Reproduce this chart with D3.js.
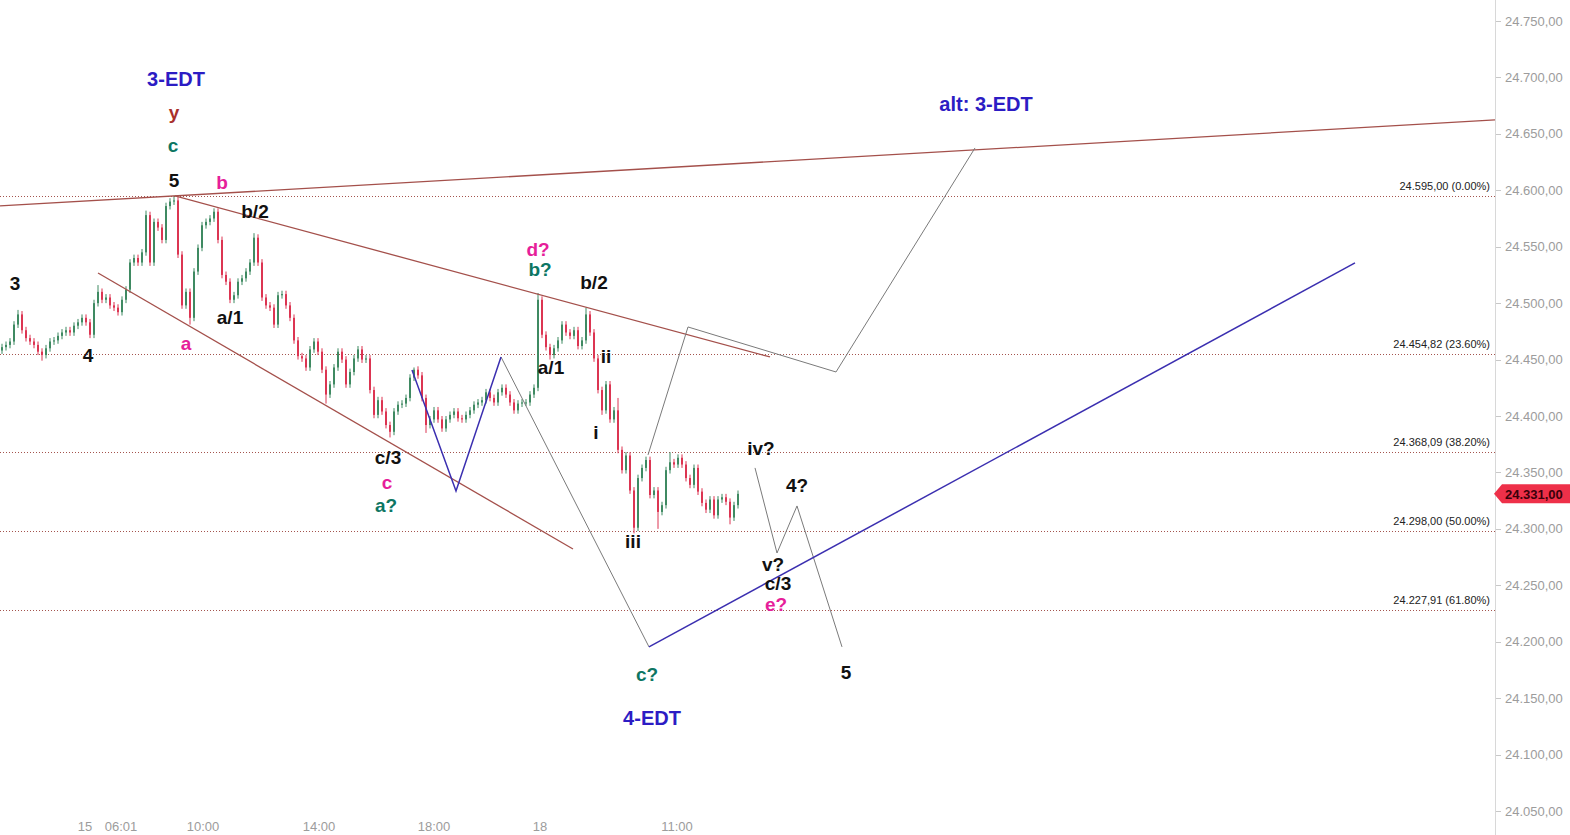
<!DOCTYPE html>
<html><head><meta charset="utf-8">
<script src="https://cdn.jsdelivr.net/npm/d3@7"></script>
<style>html,body{margin:0;padding:0;background:#fff;overflow:hidden}</style>
</head><body><svg id="c" width="1570" height="835"></svg>
<script>
// ---------- data ----------
const firstOpen = 24458;
const closes = [
24461,24463,24466,24481,24490,24476,24469,24466,24463,24457,
24454,24460,24466,24467,24471,24474,24476,24474,24480,24483,
24487,24483,24472,24500,24510,24503,24505,24498,24496,24492,
24503,24512,24536,24540,24536,24545,24578,24536,24572,24567,
24556,24586,24590,24591,24543,24498,24510,24487,24528,24549,
24569,24572,24575,24581,24556,24525,24519,24503,24507,24519,
24522,24528,24536,24558,24536,24505,24498,24496,24481,24507,
24508,24498,24487,24467,24453,24451,24443,24459,24466,24457,
24441,24419,24428,24443,24457,24450,24428,24439,24451,24459,
24450,24451,24423,24401,24414,24404,24392,24386,24404,24410,
24411,24416,24434,24441,24436,24416,24392,24397,24405,24397,
24389,24397,24401,24404,24398,24397,24401,24405,24410,24412,
24414,24421,24416,24412,24421,24425,24419,24412,24405,24411,
24412,24412,24419,24425,24503,24472,24461,24454,24460,24467,
24481,24474,24471,24476,24462,24467,24490,24474,24451,24423,
24405,24428,24397,24405,24370,24352,24365,24334,24301,24345,
24354,24361,24330,24334,24315,24321,24352,24359,24357,24363,
24357,24345,24339,24354,24333,24323,24317,24326,24312,24326,
24328,24324,24310,24321,24331
];
const barHighs = {4:24494, 24:24516, 36:24582, 43:24595, 53:24584, 63:24562, 103:24443, 134:24509, 146:24496, 154:24416, 167:24368};
const barLows  = {10:24449, 47:24481, 81:24411, 97:24381, 106:24385, 137:24450, 150:24401, 158:24296, 164:24300, 182:24304};
const wickPts = 3;

const yTicks = [24050,24100,24150,24200,24250,24300,24350,24400,24450,24500,24550,24600,24650,24700,24750];
const timeTickPos = [20.75, 29.75, 50.25, 79.25, 108, 134.5, 168.75];
const timeTickLabels = ["15","06:01","10:00","14:00","18:00","18","11:00"];

const fibLevels = [24595.00, 24454.82, 24368.09, 24298.00, 24227.91];
const fibPcts = ["0.00%","23.60%","38.20%","50.00%","61.80%"];
const lastPrice = 24331;

const brownLines = [
  [[-0.5,24586.1],[373.25,24662.3]],
  [[43.25,24595],[192,24452.3]],
  [[24,24526.7],[142.75,24282.2]]
];
const blueLines = [
  [[102.5,24440.8],[113.5,24333.6],[124.75,24452.3]],
  [[161.75,24195.4],[338.25,24535.6]]
];
const grayLines = [
  [[124.75,24452.3],[161.75,24195.4]],
  [[161.5,24365.5],[171.5,24478.9],[208.5,24439],[243.25,24637.5]],
  [[188.25,24354],[193.75,24278.6],[198.75,24320.3],[210,24195.4]]
];
// [barIndex, price, text, role, size]
const waveLabels = [
  [43.5,24698.6,"3-EDT","blue",20],
  [43,24668.5,"y","brown",19],
  [42.75,24640.1,"c","teal",19],
  [43,24609.1,"5","black",19],
  [55,24607.3,"b","pink",19],
  [63.25,24580.8,"b/2","black",19],
  [3.25,24517,"3","black",19],
  [21.5,24453.2,"4","black",19],
  [57,24486.9,"a/1","black",19],
  [46,24463.8,"a","pink",19],
  [134,24547.1,"d?","pink",19],
  [134.5,24529.4,"b?","teal",19],
  [148,24517.9,"b/2","black",19],
  [137.25,24443.4,"a/1","black",19],
  [151,24452.3,"ii","black",19],
  [148.5,24385.8,"i","black",19],
  [157.75,24288.4,"iii","black",19],
  [96.5,24362.8,"c/3","black",19],
  [96.25,24340.7,"c","pink",19],
  [96,24320.3,"a?","teal",19],
  [189.75,24370.8,"iv?","black",19],
  [198.75,24338,"4?","black",19],
  [192.75,24268,"v?","black",19],
  [194,24251.2,"c/3","black",19],
  [193.5,24232.6,"e?","pink",19],
  [161.25,24170.6,"c?","teal",19],
  [162.5,24132.5,"4-EDT","blue",20],
  [211,24172.3,"5","black",19],
  [246,24676.5,"alt: 3-EDT","blue",20]
];
const roleColors = {blue:"#2c1cc4", brown:"#a8302b", teal:"#0d7663", pink:"#e61e9a", black:"#111"};

// ---------- scales ----------
const W = 1570, H = 835, axisX = 1495;
const x = d3.scaleLinear().domain([0, 373.25]).range([2, axisX]);
const y = d3.scaleLinear().domain([24050, 24750]).range([811, 21]);
const loc = d3.formatLocale({decimal:",", thousands:".", grouping:[3], currency:["",""]});
const fmt = loc.format(",.2f");

const svg = d3.select("#c");
const font = "'Liberation Sans', Arial, sans-serif";

// fib levels
const fib = svg.append("g");
fibLevels.forEach((v,k)=>{
  fib.append("line").attr("x1",0).attr("x2",axisX).attr("y1",Math.round(y(v))+0.5).attr("y2",Math.round(y(v))+0.5)
    .attr("stroke","#a4544e").attr("stroke-width",1).attr("stroke-dasharray","1,2");
  fib.append("text").attr("x",1490).attr("y",y(v)-6).attr("text-anchor","end")
    .attr("font-family",font).attr("font-size",11).attr("fill","#222")
    .text(fmt(v)+" ("+fibPcts[k]+")");
});

// candles
const cg = svg.append("g");
closes.forEach((c,i)=>{
  const o = i===0 ? firstOpen : closes[i-1];
  const hi = barHighs[i] !== undefined ? barHighs[i] : Math.max(o,c)+wickPts;
  const lo = barLows[i] !== undefined ? barLows[i] : Math.min(o,c)-wickPts;
  const up = c >= o;
  const col = up ? "#3f8a62" : "#dc3552";
  const cx = x(i);
  cg.append("line").attr("x1",cx).attr("x2",cx).attr("y1",y(hi)).attr("y2",y(lo))
    .attr("stroke",col).attr("stroke-width",1);
  const top = y(Math.max(o,c)), bot = y(Math.min(o,c));
  cg.append("rect").attr("x",cx-1).attr("width",2).attr("y",top).attr("height",Math.max(1,bot-top)).attr("fill",col);
});

// lines
const lineGen = d3.line().x(d=>x(d[0])).y(d=>y(d[1]));
const lg = svg.append("g").attr("fill","none");
brownLines.forEach(l=>lg.append("path").attr("d",lineGen(l)).attr("stroke","#a4504b").attr("stroke-width",1.3));
grayLines.forEach(l=>lg.append("path").attr("d",lineGen(l)).attr("stroke","#7a7a7a").attr("stroke-width",1));
blueLines.forEach(l=>lg.append("path").attr("d",lineGen(l)).attr("stroke","#3b2fb0").attr("stroke-width",1.5));

// wave labels
const wl = svg.append("g");
waveLabels.forEach(d=>{
  wl.append("text").attr("x",x(d[0])).attr("y",y(d[1])).attr("text-anchor","middle")
    .attr("dominant-baseline","central").attr("font-family",font).attr("font-weight","bold")
    .attr("font-size",d[4]).attr("fill",roleColors[d[3]]).text(d[2]);
});

// right axis
const ax = svg.append("g");
ax.append("rect").attr("x",axisX).attr("y",0).attr("width",W-axisX).attr("height",H).attr("fill","#fff");
ax.append("line").attr("x1",axisX+0.5).attr("x2",axisX+0.5).attr("y1",0).attr("y2",H).attr("stroke","#d8d8d8");
yTicks.forEach(v=>{
  ax.append("line").attr("x1",axisX+1).attr("x2",axisX+6).attr("y1",Math.round(y(v))+0.5).attr("y2",Math.round(y(v))+0.5).attr("stroke","#c8c8c8");
  ax.append("text").attr("x",1505).attr("y",y(v)).attr("dominant-baseline","central")
    .attr("font-family",font).attr("font-size",13).attr("fill","#9c9c9c").text(fmt(v));
});
// last price tag
const ly = y(lastPrice);
ax.append("path").attr("d",`M${axisX-1},${ly} L${axisX+7},${ly-9.5} L${W},${ly-9.5} L${W},${ly+9.5} L${axisX+7},${ly+9.5} Z`).attr("fill","#ee3049");
ax.append("text").attr("x",1505).attr("y",ly+0.5).attr("dominant-baseline","central")
  .attr("font-family",font).attr("font-size",13).attr("font-weight","bold").attr("fill","#3a0009").text(fmt(lastPrice));

// time axis
timeTickPos.forEach((p,k)=>{
  svg.append("text").attr("x",x(p)).attr("y",826).attr("text-anchor","middle").attr("dominant-baseline","central")
    .attr("font-family",font).attr("font-size",13).attr("fill","#9c9c9c").text(timeTickLabels[k]);
});
</script></body></html>
